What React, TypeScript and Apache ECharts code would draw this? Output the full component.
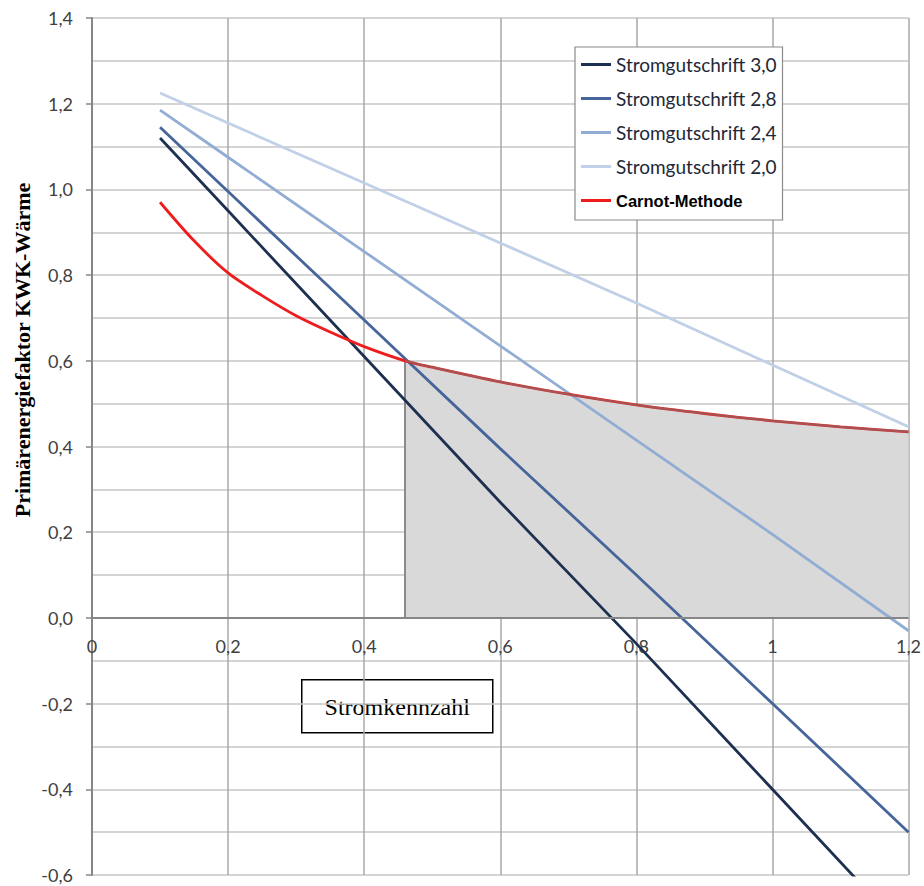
import React, { useEffect, useRef } from "react";
import * as echarts from "echarts";

// Stromkennzahl (x) sample points
const xVals = [0.1, 0.2, 0.4, 0.6, 0.8, 1.0, 1.2];
const sg30 = [1.12, 0.95, 0.61, 0.27, -0.06, -0.4, -0.74];
const sg28 = [1.145, 0.995, 0.695, 0.395, 0.1, -0.2, -0.5];
const sg24 = [1.185, 1.075, 0.855, 0.635, 0.415, 0.195, -0.03];
const sg20 = [1.225, 1.155, 1.015, 0.875, 0.735, 0.59, 0.446];

const carnotX = [0.1, 0.15, 0.2, 0.25, 0.3, 0.35, 0.4, 0.46, 0.5, 0.6, 0.7, 0.8, 0.9, 1.0, 1.1, 1.2];
const carnotY = [0.97, 0.88, 0.805, 0.752, 0.705, 0.667, 0.633, 0.6, 0.585, 0.551, 0.522, 0.497, 0.477, 0.46, 0.446, 0.434];

const shadeStart = 0.46;

const seriesNames = [
  "Stromgutschrift 3,0",
  "Stromgutschrift 2,8",
  "Stromgutschrift 2,4",
  "Stromgutschrift 2,0",
  "Carnot-Methode",
];
const seriesColors = ["#1d3050", "#46659a", "#92add3", "#c0d0e6", "#ee1c1c"];

const yTitle = "Primärenergiefaktor KWK-Wärme";
const boxText = "Verschlechterung des\nPE-Faktors gegenüber\nEnEV 2014";
const xTitle = "Stromkennzahl";

const yMin = -0.6;
const yMax = 1.4;

const fmt = (v: number) => String(Math.round(v * 10) / 10).replace(".", ",");
const fmtY = (v: number) => (Math.round(v * 10) / 10).toFixed(1).replace(".", ",");

export default function App() {
  const ref = useRef<HTMLDivElement>(null);
  useEffect(() => {
    if (!ref.current) return;
    const chart = echarts.init(ref.current, undefined, { renderer: "svg" });
    const zip = (xs: number[], ys: number[]) => xs.map((x, i) => [x, ys[i]]);
    const carnot = zip(carnotX, carnotY);
    const shade = carnot.filter((p) => p[0] >= shadeStart);
    const gridTop = 18;
    const gridBottom = 11;
    const plotH = 886 - gridTop - gridBottom;
    const zeroOffset = (plotH * (0 - yMin)) / (yMax - yMin);
    const lineSeries = [sg30, sg28, sg24, sg20].map((ys, i) => ({
      name: seriesNames[i],
      type: "line",
      data: zip(xVals, ys),
      showSymbol: false,
      symbol: "none",
      lineStyle: { color: seriesColors[i], width: 2.8 },
      itemStyle: { color: seriesColors[i] },
      z: 3,
    }));
    const tickFont = { fontFamily: "Lato", fontSize: 18, color: "#404040" };
    chart.setOption({
      animation: false,
      grid: { left: 92, right: 12, top: gridTop, bottom: gridBottom, containLabel: false },
      xAxis: {
        type: "value",
        min: 0,
        max: 1.2,
        interval: 0.2,
        offset: -zeroOffset,
        axisLine: { show: false, onZero: false },
        axisTick: { show: false },
        axisLabel: { ...tickFont, margin: 19, formatter: (v: number) => fmt(v) },
        splitLine: { show: true, lineStyle: { color: "#a8a8a8", width: 1.5 } },
      },
      yAxis: {
        type: "value",
        min: yMin,
        max: yMax,
        interval: 0.2,
        axisLine: { show: true, onZero: false, lineStyle: { color: "#868686", width: 2 } },
        axisTick: { show: true, length: 6, lineStyle: { color: "#868686", width: 1.5 } },
        axisLabel: { ...tickFont, margin: 19, formatter: (v: number) => fmtY(v) },
        splitLine: { show: true, lineStyle: { color: "#c6c6c6", width: 1.5 } },
        minorTick: { show: false, splitNumber: 2 },
        minorSplitLine: { show: true, lineStyle: { color: "#c6c6c6", width: 1.5 } },
      },
      legend: {
        orient: "vertical",
        left: 575,
        top: 47,
        padding: [7, 6, 9, 6],
        backgroundColor: "#ffffff",
        borderColor: "#8a8a8a",
        borderWidth: 1.2,
        borderRadius: 0,
        icon: "rect",
        itemWidth: 30,
        itemHeight: 3,
        itemGap: 13,
        textStyle: { fontFamily: "Lato", fontSize: 19, color: "#1e2838", lineHeight: 21 },
        data: [
          ...seriesNames.slice(0, 4).map((n) => ({ name: n })),
          {
            name: seriesNames[4],
            textStyle: { fontFamily: "Liberation Sans", fontWeight: "bold", fontSize: 16.5, color: "#000000" },
          },
        ],
      },
      series: [
        {
          name: "shade",
          type: "line",
          data: shade,
          smooth: 0.3,
          showSymbol: false,
          symbol: "none",
          lineStyle: { width: 0, opacity: 0 },
          areaStyle: { color: "#d9d9d9", opacity: 1, origin: 0 },
          z: 1,
          silent: true,
          markLine: {
            silent: true,
            symbol: "none",
            label: { show: false },
            lineStyle: { color: "#868686", width: 2, type: "solid" },
            data: [{ yAxis: 0 }],
          },
        },
        {
          name: "shadeEdge",
          type: "line",
          data: [
            [shadeStart, 0],
            [shadeStart, carnotY[carnotX.indexOf(shadeStart)]],
          ],
          showSymbol: false,
          symbol: "none",
          lineStyle: { color: "#8a8a8a", width: 2 },
          z: 2,
          silent: true,
        },
        ...lineSeries,
        {
          name: seriesNames[4],
          type: "line",
          data: carnot,
          smooth: 0.3,
          showSymbol: false,
          symbol: "none",
          lineStyle: { color: seriesColors[4], width: 2.8 },
          itemStyle: { color: seriesColors[4] },
          z: 4,
        },
        {
          name: "shadeTop",
          type: "line",
          data: shade,
          smooth: 0.3,
          showSymbol: false,
          symbol: "none",
          lineStyle: { color: "rgba(120,120,120,0.6)", width: 2.2 },
          z: 5,
          silent: true,
        },
      ],
      graphic: [
        {
          type: "text",
          x: 22,
          y: 350,
          rotation: Math.PI / 2,
          style: {
            text: yTitle,
            font: "bold 22px 'Liberation Serif', 'Times New Roman', serif",
            fill: "#000000",
            textAlign: "center",
            textVerticalAlign: "middle",
          },
        },
        {
          type: "group",
          left: 644,
          top: 473,
          children: [
            {
              type: "rect",
              shape: { x: 0, y: 0, width: 218, height: 80 },
              style: { fill: "#ffffff", stroke: "#000000", lineWidth: 1.5 },
            },
            {
              type: "text",
              x: 109,
              y: 40,
              style: {
                text: boxText,
                font: "16.5px 'Liberation Sans', Arial, sans-serif",
                fill: "#000000",
                textAlign: "center",
                textVerticalAlign: "middle",
                lineHeight: 21.5,
              },
            },
          ],
        },
        {
          type: "group",
          left: 301,
          top: 679,
          children: [
            {
              type: "rect",
              shape: { x: 0, y: 0, width: 191, height: 53 },
              style: { fill: "#ffffff", stroke: "#000000", lineWidth: 1.5 },
            },
            {
              type: "text",
              x: 95.5,
              y: 27,
              style: {
                text: xTitle,
                font: "24px 'Liberation Serif', 'Times New Roman', serif",
                fill: "#000000",
                textAlign: "center",
                textVerticalAlign: "middle",
              },
            },
          ],
        },
      ],
    });
    return () => chart.dispose();
  }, []);
  return <div ref={ref} style={{ width: 924, height: 886, position: "absolute", left: 0, top: 0 }} />;
}
